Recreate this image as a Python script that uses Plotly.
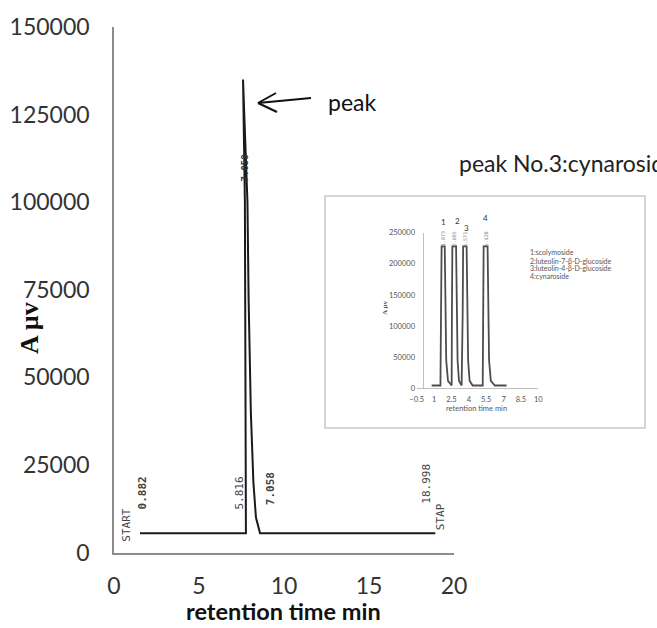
import plotly.graph_objects as go

W, H = 657, 628

# ---------------- data ----------------
# main chromatogram (retention time in min, signal in µV)
main_time = [1.53, 7.76, 7.70, 7.59, 7.85, 7.92, 8.05, 8.20, 8.35, 8.59, 18.9]
main_signal = [5500, 5500, 100000, 135000, 100000, 72000, 40000, 20000, 10000, 5500, 5500]

main_xticks = [0, 5, 10, 15, 20]
main_yticks = [0, 25000, 50000, 75000, 100000, 125000, 150000]
main_yticklabels = ["0", "25000", "50000", "75000", "100000", "125000", "150000"]

# inset chromatogram (standard mixture)
inset_time = [0.79, 1.55, 1.60, 1.65, 1.92, 1.97, 2.05, 2.20, 2.52,
              2.54, 2.58, 2.90, 2.95, 3.03, 3.15, 3.38,
              3.47, 3.51, 3.81, 3.86, 3.94, 4.07, 4.33,
              5.20, 5.24, 5.28, 5.62, 5.67, 5.75, 5.90, 6.25, 7.26]
inset_signal = [4500, 4500, 120000, 228000, 228000, 130000, 45000, 12000, 4500,
                120000, 228000, 228000, 130000, 45000, 12000, 4500,
                120000, 228000, 228000, 130000, 45000, 12000, 4500,
                4500, 120000, 228000, 228000, 130000, 45000, 12000, 4500, 4500]
inset_xticks = [-0.5, 1, 2.5, 4, 5.5, 7, 8.5, 10]
inset_yticks = [0, 50000, 100000, 150000, 200000, 250000]
inset_yticklabels = ["0", "50000", "100000", "150000", "200000", "250000"]
inset_legend = ["1:scolymoside", "2:luteolin-7-β-D-glucoside",
                "3:luteolin-4-β-D-glucoside", "4:cynaroside"]

# chromatogram printout labels (text, time, signal, bold)
print_labels = [("START", 0.76, 7900, False), ("0.882", 1.70, 17100, True),
                ("5.816", 7.41, 17100, False), ("7.058", 9.18, 18100, True),
                ("18.998", 18.40, 19600, False), ("STAP", 19.18, 10100, False)]


def px(x):
    return x / W


def py(y):
    return (H - y) / H


fig = go.Figure()
fig.add_trace(go.Scatter(x=main_time, y=main_signal, mode="lines",
                         line=dict(color="#1a1a1a", width=2),
                         xaxis="x", yaxis="y", showlegend=False, hoverinfo="skip"))
fig.add_trace(go.Scatter(x=inset_time, y=inset_signal, mode="lines",
                         line=dict(color="#4d4d4d", width=1.8),
                         xaxis="x2", yaxis="y2", showlegend=False, hoverinfo="skip"))

tickfont = dict(family="Lato", size=23, color="#333333")
inset_font = dict(family="Lato", size=7.5, color="#555555")

fig.update_layout(
    width=W, height=H, margin=dict(l=0, r=0, t=0, b=0, autoexpand=False),
    paper_bgcolor="white", plot_bgcolor="rgba(0,0,0,0)",
    xaxis=dict(domain=[px(114), px(454)], range=[0, 20], tickvals=main_xticks,
               showline=True, linecolor="#8c8c8c", linewidth=1.5,
               showgrid=False, zeroline=False, ticks="outside", ticklen=12,
               tickcolor="rgba(0,0,0,0)", tickfont=tickfont, anchor="y", automargin=False),
    yaxis=dict(domain=[py(552.5), py(27)], range=[0, 150000], tickvals=main_yticks,
               ticktext=main_yticklabels,
               showline=True, linecolor="#8c8c8c", linewidth=1.5,
               showgrid=False, zeroline=False, ticks="outside", ticklen=18,
               tickcolor="rgba(0,0,0,0)", tickfont=tickfont, anchor="x", automargin=False),
    xaxis2=dict(domain=[px(416.7), px(538.3)], range=[-0.5, 10], tickvals=inset_xticks,
                showline=True, linecolor="#c0c0c0", linewidth=1,
                showgrid=False, zeroline=False, ticks="outside", ticklen=4,
                tickcolor="rgba(0,0,0,0)", tickfont=inset_font, anchor="y2", automargin=False),
    yaxis2=dict(domain=[py(388.3), py(232.7)], range=[0, 250000], tickvals=inset_yticks,
                ticktext=inset_yticklabels,
                showline=True, linecolor="#c0c0c0", linewidth=1,
                showgrid=False, zeroline=False, ticks="outside", ticklen=6,
                tickcolor="rgba(0,0,0,0)", tickfont=inset_font,
                anchor="free", position=px(422.5), automargin=False),
)

ann = []


def paper_text(text, x, y, font, xanchor="center", yanchor="middle", angle=0):
    ann.append(dict(text=text, x=px(x), y=py(y), xref="paper", yref="paper",
                    xanchor=xanchor, yanchor=yanchor, showarrow=False, textangle=angle,
                    font=font))


# axis titles
paper_text("<b>retention time min</b>", 283.5, 611, dict(family="Lato", size=23.5, color="#111111"))
paper_text("<b>A µv</b>", 29, 328, dict(family="Liberation Serif", size=26, color="#111111"), angle=-90)
# peak labels
paper_text("peak", 326, 102, dict(family="Lato", size=23, color="#111111"), xanchor="left")
paper_text("peak No.3:cynaroside", 457, 163, dict(family="Lato", size=23, color="#222222"), xanchor="left")
# printout labels
for txt, t, s, b in print_labels:
    ann.append(dict(text=f"<b>{txt}</b>" if b else txt, x=t, y=s, xref="x", yref="y",
                    xanchor="center", yanchor="middle", showarrow=False, textangle=-90,
                    font=dict(family="DejaVu Sans Mono", size=11, color="#444444")))
ann.append(dict(text="<b>7.058</b>", x=7.72, y=109700, xref="x", yref="y", showarrow=False,
                xanchor="center", yanchor="middle",
                textangle=-90, font=dict(family="DejaVu Sans Mono", size=9, color="#333333")))
# inset texts
paper_text("retention time min", 476.7, 408.3, dict(family="Lato", size=7.5, color="#555555"))
paper_text("<b>A µv</b>", 385, 308, dict(family="Liberation Serif", size=7, color="#555555"), angle=-90)
for i, (lx, ly) in enumerate([(443.3, 222), (457.7, 221), (466.7, 227.5), (485.3, 218.5)]):
    paper_text(str(i + 1), lx, ly, dict(family="Lato", size=8, color="#333333"))
for lab, t in [("1.873", 1.78), ("2.695", 2.75), ("3.571", 3.67), ("5.420", 5.45)]:
    ann.append(dict(text=lab, x=t, y=240000, xref="x2", yref="y2", showarrow=False,
                    xanchor="center", yanchor="middle",
                    textangle=-90, font=dict(family="DejaVu Sans Mono", size=5, color="#888888")))
for i, line in enumerate(inset_legend):
    paper_text(line, 528, [251.7, 261, 268.3, 275.7][i], dict(family="Lato", size=7, color="#555555"),
               xanchor="left")
fig.update_layout(annotations=ann)

# arrow and inset frame
shapes = [
    dict(type="line", xref="paper", yref="paper", x0=px(311), y0=py(98), x1=px(258), y1=py(103),
         line=dict(color="#111111", width=2)),
    dict(type="line", xref="paper", yref="paper", x0=px(258), y0=py(103), x1=px(276), y1=py(93),
         line=dict(color="#111111", width=2)),
    dict(type="line", xref="paper", yref="paper", x0=px(258), y0=py(103), x1=px(277), y1=py(112),
         line=dict(color="#111111", width=2)),
    dict(type="rect", xref="paper", yref="paper", x0=px(325), y0=py(428), x1=px(645), y1=py(196),
         line=dict(color="#c8c8c8", width=1.5)),
]
fig.update_layout(shapes=shapes)

fig.write_html("out.html", config={"displayModeBar": False},
               post_script="document.body.style.margin='0';document.body.style.overflow='hidden';")
